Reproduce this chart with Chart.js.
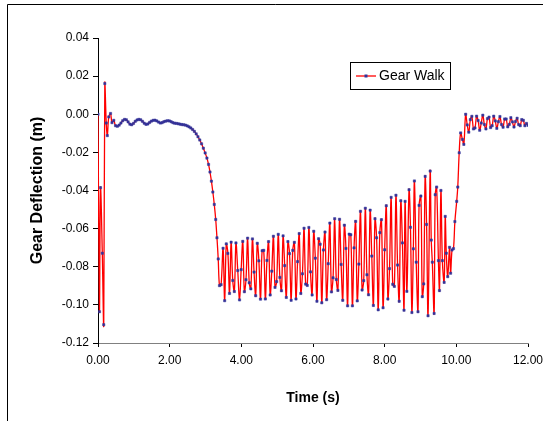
<!DOCTYPE html>
<html>
<head>
<meta charset="utf-8">
<script src="https://cdn.jsdelivr.net/npm/chart.js@4.4.1/dist/chart.umd.min.js"></script>
<style>
  html, body { margin: 0; padding: 0; background: #fff; overflow: hidden; }
  #chart { display: block; }
</style>
</head>
<body>
<canvas id="chart" width="543" height="421"></canvas>
<script>
// Gear walk record (time in s, deflection in m)

// touchdown spike and the flat roll
const startTimes = [0.00, 0.04, 0.07, 0.12, 0.16, 0.19, 0.23, 0.26, 0.30, 0.35, 0.39, 0.44,
  0.49, 0.54, 0.59, 0.64, 0.69, 0.74, 0.79, 0.84, 0.89, 0.94,
  0.99, 1.04, 1.09, 1.14, 1.19, 1.24, 1.29, 1.34, 1.39, 1.44,
  1.49, 1.54, 1.59, 1.64, 1.69, 1.74, 1.79, 1.84, 1.89, 1.94,
  1.99, 2.04, 2.09, 2.14, 2.19, 2.24, 2.29, 2.34, 2.39, 2.44,
  2.49, 2.54, 2.59, 2.64, 2.69, 2.74, 2.79, 2.84, 2.89, 2.94, 2.99];
const startDefl = [0.0000, -0.1036, -0.0385, -0.0729, -0.1104, 0.0161, -0.0046, -0.0112, -0.0014, 0.0004, -0.0044, -0.0032,
  -0.0060, -0.0063, -0.0057, -0.0046, -0.0034, -0.0027, -0.0029, -0.0040, -0.0052, -0.0055,
  -0.0048, -0.0037, -0.0030, -0.0027, -0.0029, -0.0037, -0.0047, -0.0053, -0.0051, -0.0043,
  -0.0036, -0.0032, -0.0031, -0.0035, -0.0041, -0.0046, -0.0044, -0.0039, -0.0036, -0.0034,
  -0.0035, -0.0039, -0.0044, -0.0047, -0.0048, -0.0050, -0.0052, -0.0054, -0.0055, -0.0057,
  -0.0061, -0.0066, -0.0072, -0.0080, -0.0090, -0.0103, -0.0118, -0.0135, -0.0155, -0.0178, -0.0203];

// drop into braking
const dropTimes = [3.04, 3.085, 3.125, 3.165, 3.205, 3.245, 3.285, 3.32, 3.355, 3.39, 3.435,
  3.49, 3.535, 3.58, 3.625, 3.67, 3.715, 3.76, 3.805, 3.85, 3.90, 3.95];
const dropDefl = [-0.0230, -0.0263, -0.0303, -0.0351, -0.0408, -0.0473, -0.0552, -0.0648, -0.0759, -0.0899, -0.0894,
  -0.0703, -0.0978, -0.0680, -0.0730, -0.0940, -0.0671, -0.0872, -0.0930, -0.0675, -0.0820, -0.0974];

// gear walk oscillation
const walkTimes = [3.995, 4.040, 4.085, 4.130, 4.175, 4.220, 4.265, 4.310, 4.355, 4.400,
  4.445, 4.490, 4.535, 4.580, 4.625, 4.670, 4.715, 4.760, 4.805, 4.850,
  4.895, 4.940, 4.985, 5.030, 5.075, 5.120, 5.165, 5.210, 5.255, 5.300,
  5.345, 5.390, 5.435, 5.480, 5.525, 5.570, 5.615, 5.660, 5.705, 5.750,
  5.795, 5.840, 5.885, 5.930, 5.975, 6.020, 6.065, 6.110, 6.155, 6.200,
  6.245, 6.290, 6.335, 6.380, 6.425, 6.470, 6.515, 6.560, 6.605, 6.650,
  6.695, 6.740, 6.785, 6.830, 6.875, 6.920, 6.965, 7.010, 7.055, 7.100,
  7.145, 7.190, 7.235, 7.280, 7.325, 7.370, 7.415, 7.460, 7.505, 7.550,
  7.595, 7.640, 7.685, 7.730, 7.775, 7.820, 7.865, 7.910, 7.955, 8.000,
  8.045, 8.090, 8.135, 8.180, 8.225, 8.270, 8.315, 8.360, 8.405, 8.450,
  8.495, 8.540];
const walkDefl = [-0.0815, -0.0667, -0.0931, -0.0868, -0.0650, -0.0884, -0.0916, -0.0654, -0.0828, -0.0952,
  -0.0677, -0.0769, -0.0970, -0.0716, -0.0714, -0.0969, -0.0767, -0.0668, -0.0948, -0.0823,
  -0.0640, -0.0908, -0.0878, -0.0630, -0.0856, -0.0926, -0.0638, -0.0794, -0.0961, -0.0668,
  -0.0731, -0.0976, -0.0714, -0.0672, -0.0969, -0.0773, -0.0626, -0.0940, -0.0837, -0.0598,
  -0.0891, -0.0898, -0.0594, -0.0827, -0.0948, -0.0614, -0.0755, -0.0981, -0.0653, -0.0682,
  -0.0989, -0.0712, -0.0618, -0.0973, -0.0784, -0.0571, -0.0932, -0.0858, -0.0548, -0.0867,
  -0.0924, -0.0551, -0.0788, -0.0976, -0.0582, -0.0704, -0.1005, -0.0629, -0.0632, -0.1005,
  -0.0701, -0.0562, -0.0979, -0.0786, -0.0509, -0.0922, -0.0873, -0.0493, -0.0842, -0.0947,
  -0.0503, -0.0744, -0.1003, -0.0548, -0.0648, -0.1026, -0.0621, -0.0553, -0.1015, -0.0711,
  -0.0480, -0.0969, -0.0810, -0.0436, -0.0892, -0.0903, -0.0425, -0.0791, -0.0981, -0.0454,
  -0.0675, -0.1028];

// largest swings, then release
const releaseTimes = [8.57, 8.62, 8.68, 8.72, 8.76, 8.80, 8.83, 8.88, 8.93, 8.96,
  9.01, 9.05, 9.09, 9.13, 9.17, 9.21, 9.27, 9.30, 9.33, 9.38,
  9.41, 9.45, 9.50, 9.53, 9.57, 9.61, 9.66, 9.69, 9.72, 9.76,
  9.81, 9.84, 9.88, 9.92, 9.96, 10.01, 10.04, 10.08, 10.12, 10.17, 10.21];
const releaseDefl = [-0.0457, -0.0929, -0.0396, -0.0593, -0.1040, -0.0706, -0.0350, -0.0776, -0.1036, -0.0478,
  -0.0429, -0.0957, -0.0890, -0.0326, -0.0578, -0.1057, -0.0298, -0.0660, -0.0776, -0.1045,
  -0.0422, -0.0382, -0.0768, -0.0925, -0.0400, -0.0768, -0.0882, -0.0536, -0.0729, -0.0852,
  -0.0698, -0.0834, -0.0712, -0.0705, -0.0563, -0.0457, -0.0382, -0.0202, -0.0098, -0.0132, -0.0158];

// settling after brake release
const settleTimes = [10.260, 10.304, 10.347, 10.391, 10.434, 10.478, 10.521, 10.565, 10.608, 10.652,
  10.695, 10.739, 10.782, 10.826, 10.869, 10.913, 10.956, 11.000, 11.043, 11.087,
  11.130, 11.174, 11.217, 11.261, 11.304, 11.348, 11.391, 11.435, 11.478, 11.522,
  11.565, 11.609, 11.652, 11.696, 11.739, 11.783, 11.826, 11.870, 11.913, 11.957, 12.000];
const settleDefl = [0.0000, -0.0056, -0.0094, -0.0028, -0.0011, -0.0077, -0.0072, -0.0010, -0.0033, -0.0084,
  -0.0046, -0.0005, -0.0054, -0.0077, -0.0023, -0.0015, -0.0070, -0.0060, -0.0010, -0.0035,
  -0.0074, -0.0039, -0.0012, -0.0054, -0.0068, -0.0025, -0.0025, -0.0066, -0.0053, -0.0018,
  -0.0040, -0.0067, -0.0038, -0.0021, -0.0054, -0.0060, -0.0028, -0.0032, -0.0060, -0.0048, -0.0058];

const seriesLabel = 'Gear Walk';
const xTitle = 'Time (s)';
const yTitle = 'Gear Deflection (m)';

const times = [...startTimes, ...dropTimes, ...walkTimes, ...releaseTimes, ...settleTimes];
const defl = [...startDefl, ...dropDefl, ...walkDefl, ...releaseDefl, ...settleDefl];
if (times.length !== defl.length) console.error('length mismatch', times.length, defl.length);

const points = times.map((t, i) => ({ x: t, y: defl[i] }));

const FONT = "'Liberation Sans', Arial, sans-serif";
const RED = '#ff0000';
const NAVY = '#333399';

const fmt = v => (Math.abs(v) < 1e-9 ? 0 : v).toFixed(2);

// page frame, axis titles and the boxed legend
const decorations = {
  id: 'decorations',
  beforeDraw(chart) {
    const ctx = chart.ctx;
    ctx.save();
    ctx.fillStyle = '#fff';
    ctx.fillRect(0, 0, chart.width, chart.height);
    ctx.strokeStyle = '#000';
    ctx.lineWidth = 1;
    ctx.beginPath();
    ctx.moveTo(7.5, chart.height);
    ctx.lineTo(7.5, 4.5);
    ctx.lineTo(chart.width, 4.5);
    ctx.stroke();
    ctx.restore();
  },
  afterDraw(chart) {
    const ctx = chart.ctx;
    const area = chart.chartArea;
    ctx.save();
    ctx.fillStyle = '#000';
    ctx.textAlign = 'center';
    ctx.textBaseline = 'middle';

    ctx.font = 'bold 14px ' + FONT;
    ctx.fillText(xTitle, (area.left + area.right) / 2, 398);

    ctx.save();
    ctx.translate(38, (area.top + area.bottom) / 2);
    ctx.rotate(-Math.PI / 2);
    ctx.font = 'bold 16px ' + FONT;
    ctx.fillText(yTitle, 0, 0);
    ctx.restore();

    // legend
    const bx = 350.5, by = 62.5, bw = 100, bh = 27;
    ctx.fillStyle = '#fff';
    ctx.fillRect(bx, by, bw, bh);
    ctx.strokeStyle = '#000';
    ctx.lineWidth = 1;
    ctx.strokeRect(bx, by, bw, bh);
    const ly = by + bh / 2;
    ctx.strokeStyle = RED;
    ctx.lineWidth = 1.3;
    ctx.beginPath();
    ctx.moveTo(356, ly);
    ctx.lineTo(376, ly);
    ctx.stroke();
    ctx.fillStyle = NAVY;
    ctx.fillRect(364.5, ly - 1.5, 3, 3);
    ctx.fillStyle = '#000';
    ctx.textAlign = 'left';
    ctx.font = '14px ' + FONT;
    ctx.fillText(seriesLabel, 379, ly + 0.5);
    ctx.restore();
  }
};

new Chart(document.getElementById('chart'), {
  type: 'line',
  data: {
    datasets: [{
      label: seriesLabel,
      data: points,
      borderColor: RED,
      borderWidth: 1.3,
      tension: 0.35,
      pointStyle: 'rect',
      pointRadius: 1.6,
      pointBackgroundColor: NAVY,
      pointBorderColor: NAVY,
      pointBorderWidth: 0.5,
      fill: false
    }]
  },
  options: {
    responsive: false,
    animation: false,
    devicePixelRatio: 1,
    layout: { padding: { top: 38, right: 15, left: 0, bottom: 0 } },
    plugins: {
      legend: { display: false },
      tooltip: { enabled: false }
    },
    scales: {
      x: {
        type: 'linear',
        min: 0,
        max: 12,
        afterFit: s => {
          s.height = 78;
          // let the last label run to the page edge, as in the original
          s.paddingRight = 0;
          s.paddingLeft = 0;
        },
        ticks: {
          stepSize: 2,
          callback: fmt,
          color: '#000',
          font: { family: FONT, size: 12 },
          padding: 6,
          maxRotation: 0,
          autoSkip: false
        },
        grid: { drawOnChartArea: false, drawTicks: true, tickLength: 4, tickColor: '#000' },
        border: { display: true, color: '#808080', width: 1 }
      },
      y: {
        min: -0.12,
        max: 0.04,
        afterFit: s => { s.width = 98; },
        ticks: {
          stepSize: 0.02,
          callback: fmt,
          color: '#000',
          font: { family: FONT, size: 12 },
          padding: 4
        },
        grid: { drawOnChartArea: false, drawTicks: true, tickLength: 5, tickColor: '#000' },
        border: { display: true, color: '#000', width: 1 }
      }
    }
  },
  plugins: [decorations]
});
</script>
</body>
</html>
